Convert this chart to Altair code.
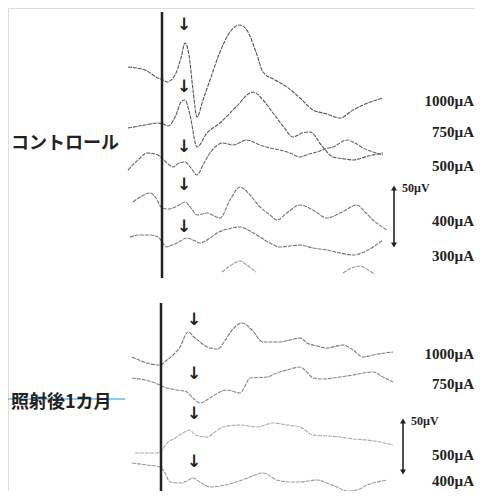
import altair as alt
import pandas as pd

# ---- waveform traces (x = horizontal position, y = vertical position) ----
ctrl_1000_x = [128, 145, 158, 163, 167, 175, 181, 185, 189, 193, 197, 203, 210, 220, 230, 240, 248, 256, 263, 275, 287, 300, 313, 327, 340, 353, 368, 383]
ctrl_1000_y = [67, 70, 78, 80, 82, 75, 58, 43, 55, 90, 117, 100, 80, 52, 32, 25, 32, 52, 72, 80, 87, 98, 110, 114, 118, 110, 103, 98]

ctrl_750_x = [128, 145, 157, 163, 168, 176, 181, 185, 190, 197, 207, 220, 235, 253, 263, 273, 283, 293, 302, 310, 322, 333, 345, 353, 368, 383]
ctrl_750_y = [128, 125, 123, 124, 126, 115, 102, 100, 115, 147, 133, 123, 108, 92, 100, 113, 126, 137, 133, 132, 146, 157, 159, 160, 156, 153]

ctrl_500_x = [128, 138, 147, 155, 162, 167, 173, 179, 185, 191, 197, 203, 210, 223, 233, 247, 260, 270, 280, 290, 300, 309, 317, 325, 333, 347, 355, 363, 373, 383]
ctrl_500_y = [170, 160, 153, 154, 158, 163, 167, 163, 162, 168, 175, 165, 153, 143, 145, 140, 145, 148, 150, 153, 157, 154, 152, 149, 147, 140, 143, 148, 152, 155]

ctrl_400_x = [133, 142, 150, 156, 162, 168, 173, 179, 185, 191, 197, 207, 220, 230, 240, 250, 260, 270, 277, 288, 300, 313, 327, 342, 357, 365, 373, 387]
ctrl_400_y = [202, 196, 193, 198, 208, 209, 208, 205, 202, 208, 215, 213, 218, 200, 187, 195, 207, 215, 220, 212, 205, 210, 218, 212, 205, 212, 220, 230]

ctrl_300_x = [130, 140, 150, 158, 167, 172, 177, 187, 193, 200, 210, 217, 228, 240, 250, 260, 270, 280, 290, 300, 313, 327, 340, 353, 368, 383]
ctrl_300_y = [237, 235, 235, 237, 247, 245, 243, 238, 240, 243, 238, 233, 229, 227, 231, 237, 243, 247, 246, 245, 248, 250, 253, 255, 250, 240]

ctrl_bump_a_x = [222, 230, 240, 248, 256]
ctrl_bump_a_y = [272, 266, 261, 266, 272]
ctrl_bump_b_x = [343, 352, 360, 368, 375]
ctrl_bump_b_y = [273, 268, 266, 270, 274]

irr_1000_x = [132, 147, 160, 167, 174, 180, 188, 194, 200, 210, 218, 224, 230, 236, 242, 252, 263, 280, 290, 300, 307, 317, 327, 343, 353, 363, 378, 393]
irr_1000_y = [357, 363, 365, 360, 354, 347, 332, 337, 342, 348, 349, 342, 333, 326, 323, 330, 342, 342, 340, 338, 343, 346, 348, 345, 350, 357, 354, 352]

irr_750_x = [132, 145, 155, 167, 177, 187, 193, 200, 210, 218, 227, 240, 245, 250, 267, 277, 287, 300, 307, 313, 323, 333, 353, 373, 383, 393]
irr_750_y = [378, 380, 383, 388, 390, 392, 398, 403, 398, 393, 390, 393, 386, 378, 377, 373, 370, 367, 372, 378, 379, 378, 375, 372, 377, 382]

irr_500_x = [135, 147, 157, 162, 167, 175, 183, 190, 195, 207, 215, 223, 240, 257, 273, 287, 300, 313, 327, 340, 353, 367, 380, 393]
irr_500_y = [453, 453, 453, 450, 443, 438, 433, 430, 435, 437, 432, 427, 425, 427, 423, 425, 427, 435, 436, 437, 439, 440, 442, 445]

irr_400_x = [132, 147, 160, 165, 170, 180, 187, 193, 200, 210, 220, 233, 242, 250, 263, 277, 290, 300, 317, 327, 337, 347, 357, 367, 377, 387]
irr_400_y = [463, 465, 467, 473, 482, 483, 481, 478, 482, 487, 486, 483, 480, 477, 473, 480, 482, 482, 480, 483, 487, 491, 490, 485, 482, 480]

traces = [
    ("c1000", ctrl_1000_x, ctrl_1000_y),
    ("c750", ctrl_750_x, ctrl_750_y),
    ("c500", ctrl_500_x, ctrl_500_y),
    ("c400", ctrl_400_x, ctrl_400_y),
    ("c300", ctrl_300_x, ctrl_300_y),
    ("cba", ctrl_bump_a_x, ctrl_bump_a_y),
    ("cbb", ctrl_bump_b_x, ctrl_bump_b_y),
    ("i1000", irr_1000_x, irr_1000_y),
    ("i750", irr_750_x, irr_750_y),
    ("i500", irr_500_x, irr_500_y),
    ("i400", irr_400_x, irr_400_y),
]
trace_names = [t[0] for t in traces]
trace_colors = ["#555", "#5a5a5a", "#666", "#777", "#777", "#999", "#999",
                "#777", "#888", "#aaa", "#999"]

# stimulus lines (x, y top, y bottom)
stim_x = [162, 161]
stim_top = [12, 303]
stim_bottom = [278, 491]

# peak arrows
arrow_x = [184, 184, 184, 184, 184, 194, 194, 194, 194]
arrow_y = [25, 87, 147, 185, 227, 320, 374, 414, 462]

# scale bars (50 µV)
bar_x = [394, 403]
bar_top = [188, 421]
bar_bottom = [245, 472]
bar_label = ["50µV", "50µV"]

# stimulus-intensity labels
intensity_labels = ["1000µA", "750µA", "500µA", "400µA", "300µA",
                    "1000µA", "750µA", "500µA", "400µA"]
intensity_y = [101, 132, 166, 221, 256, 354, 384, 455, 481]

group_labels = ["コントロール", "照射後1カ月"]
group_y = [144, 403]

# scan artefact (blue stroke across the lower label)
streak_x = [8, 125]
streak_y = [399, 399]

rows = []
for name, xs_, ys_ in traces:
    for i, (x, y) in enumerate(zip(xs_, ys_)):
        rows.append({"trace": name, "x": x, "y": y, "i": i})
df = pd.DataFrame(rows)

xs = alt.Scale(domain=[8, 475], nice=False, zero=False)
ys = alt.Scale(domain=[8, 491], nice=False, zero=False, reverse=True)
X = lambda f: alt.X(f, type="quantitative", scale=xs, axis=None)
Y = lambda f: alt.Y(f, type="quantitative", scale=ys, axis=None)

lines = alt.Chart(df).mark_line(strokeWidth=1.1, strokeDash=[4, 1], interpolate="monotone").encode(
    x=X("x"), y=Y("y"), detail="trace:N", order="i:Q",
    color=alt.Color("trace:N", scale=alt.Scale(domain=trace_names, range=trace_colors), legend=None),
)

stim = alt.Chart(pd.DataFrame({"x": stim_x, "y": stim_top, "y2": stim_bottom})).mark_rule(
    color="#222", strokeWidth=2.5).encode(x=X("x"), y=Y("y"), y2="y2:Q")

arrows = alt.Chart(pd.DataFrame({"x": arrow_x, "y": arrow_y, "t": ["↓"] * len(arrow_x)})).mark_text(
    font="DejaVu Sans", fontSize=17, color="#222", fontWeight="bold").encode(x=X("x"), y=Y("y"), text="t:N")

bar_df = pd.DataFrame({"x": bar_x, "y": bar_top, "y2": bar_bottom, "lab": bar_label})
bars = alt.Chart(bar_df).mark_rule(color="#222", strokeWidth=1.6).encode(x=X("x"), y=Y("y"), y2="y2:Q")
bar_up = alt.Chart(bar_df).mark_point(shape="triangle-up", filled=True, color="#222", size=35, opacity=1).encode(
    x=X("x"), y=Y("y"))
bar_dn = alt.Chart(bar_df).mark_point(shape="triangle-down", filled=True, color="#222", size=35, opacity=1).encode(
    x=X("x"), y=Y("y2"))
bar_txt = alt.Chart(bar_df).mark_text(font="Liberation Serif", fontWeight="bold", fontSize=12,
                                      align="left", dx=8, dy=0, color="#222").encode(
    x=X("x"), y=Y("y"), text="lab:N")

streak = alt.Chart(pd.DataFrame({"x": streak_x, "y": streak_y, "i": [0, 1]})).mark_line(
    color="#4aa6e0", strokeWidth=1.4, opacity=0.8).encode(x=X("x"), y=Y("y"), order="i:Q")

lab_df = pd.DataFrame({"y": intensity_y, "t": intensity_labels, "x": [474] * len(intensity_y)})
labs = alt.Chart(lab_df).mark_text(font="Liberation Serif", fontWeight="bold", fontSize=15,
                                   align="right", color="#222").encode(x=X("x"), y=Y("y"), text="t:N")

g_df = pd.DataFrame({"y": group_y, "t": group_labels, "x": [11, 11]})
glabs = alt.Chart(g_df).mark_text(font="Noto Sans CJK JP", fontWeight="bold", fontSize=18,
                                  align="left", color="#222").encode(x=X("x"), y=Y("y"), text="t:N")

chart = alt.layer(lines, stim, arrows, bars, bar_up, bar_dn, bar_txt, streak, labs, glabs).properties(
    width=467, height=483, padding=0, autosize=alt.AutoSizeParams(type="none")
).configure_view(stroke=None, clip=False).configure(background="white")

chart.save("out.html", embed_options={"renderer": "svg", "actions": False})
